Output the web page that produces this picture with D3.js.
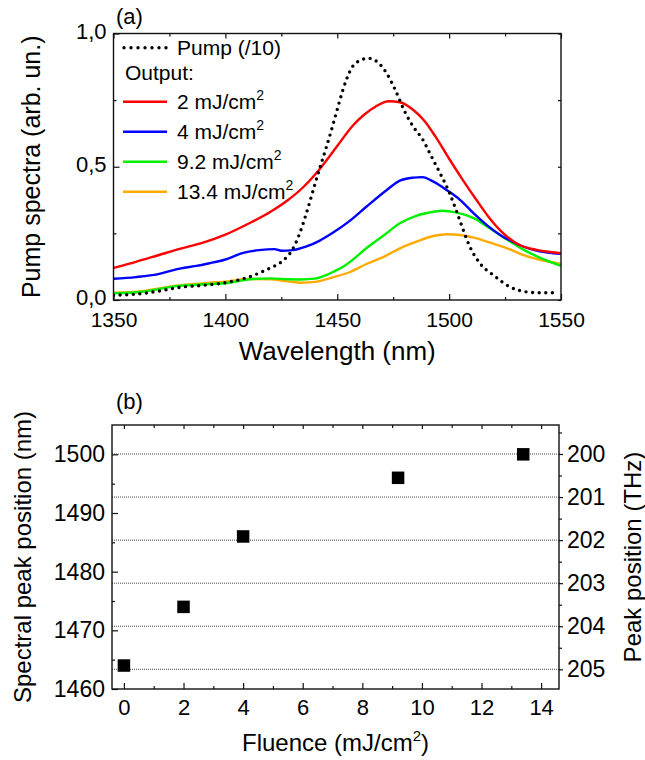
<!DOCTYPE html>
<html>
<head>
<meta charset="utf-8">
<script src="https://cdn.jsdelivr.net/npm/d3@7/dist/d3.min.js"></script>
<style>
  html, body { margin: 0; padding: 0; background: #fff; }
  svg { display: block; font-family: Arial, "Liberation Sans", Helvetica, sans-serif; }
  .tick line { stroke: #111; stroke-width: 1.2; }
  .tick text { fill: #000; }
</style>
</head>
<body>
<svg id="chart" width="645" height="760"></svg>
<script>
// ---------- Panel (a): spectra ----------
const wlTicks = [1350, 1400, 1450, 1500, 1550];
const wlMinor = [1375, 1425, 1475, 1525];
const specTicks = [0, 0.5, 1];
const specMinor = [0.25, 0.75];

// pump spectrum (divided by 10)
const pumpWl  = [1350,1360,1370,1380,1390,1400,1410,1420,1425,1430,1433,1436,1439,1442,1445,1448,1451,1454,1457,1460,1464,1468,1472,1476,1480,1484,1488,1492,1496,1500,1503,1506,1509,1514,1520,1527,1535,1542,1548];
const pumpVal = [0.018,0.022,0.033,0.048,0.055,0.065,0.085,0.12,0.143,0.19,0.245,0.32,0.405,0.49,0.57,0.655,0.745,0.825,0.878,0.898,0.907,0.893,0.852,0.787,0.71,0.65,0.605,0.54,0.475,0.405,0.34,0.27,0.205,0.135,0.092,0.05,0.03,0.027,0.027];

// output spectra
const out2Wl  = [1350,1360,1370,1380,1390,1400,1410,1420,1428,1435,1442,1450,1457,1462,1467,1473,1478,1484,1489,1494,1500,1506,1512,1518,1524,1531,1539,1545,1550];
const out2Val = [0.12,0.143,0.168,0.193,0.215,0.245,0.285,0.33,0.375,0.425,0.49,0.578,0.655,0.695,0.725,0.746,0.742,0.713,0.672,0.612,0.53,0.452,0.378,0.308,0.252,0.208,0.188,0.18,0.176];

const out4Wl  = [1350,1360,1370,1378,1387,1393,1400,1408,1415,1422,1425,1430,1436,1442,1448,1455,1463,1472,1478,1484,1488,1493,1499,1505,1511,1517,1523,1530,1538,1544,1550];
const out4Val = [0.08,0.086,0.097,0.115,0.128,0.138,0.152,0.177,0.187,0.191,0.185,0.187,0.2,0.222,0.252,0.293,0.35,0.412,0.448,0.459,0.461,0.444,0.412,0.375,0.325,0.28,0.243,0.212,0.187,0.178,0.173];

const out9Wl  = [1350,1363,1378,1393,1400,1411,1420,1428,1434,1440,1445,1448,1453,1456,1463,1471,1478,1485,1493,1497,1503,1511,1518,1526,1533,1541,1550];
const out9Val = [0.025,0.031,0.052,0.06,0.063,0.078,0.081,0.078,0.077,0.08,0.093,0.105,0.127,0.145,0.194,0.244,0.288,0.315,0.331,0.335,0.329,0.307,0.27,0.226,0.19,0.157,0.128];

const out13Wl  = [1350,1363,1378,1393,1400,1411,1420,1428,1434,1441,1448,1456,1463,1471,1478,1486,1493,1499,1505,1511,1518,1526,1533,1541,1550];
const out13Val = [0.027,0.033,0.054,0.065,0.069,0.079,0.078,0.07,0.065,0.069,0.085,0.106,0.135,0.163,0.194,0.221,0.24,0.247,0.244,0.234,0.216,0.194,0.169,0.15,0.135];

const outLabels = ["2 mJ/cm", "4 mJ/cm", "9.2 mJ/cm", "13.4 mJ/cm"];
const outColors = ["#ff0000", "#0000ff", "#00f000", "#ffaa00"];

// ---------- Panel (b): peak position vs fluence ----------
const fluence = [0, 2, 4, 9.2, 13.4];
const peakNm  = [1464, 1474, 1486, 1496, 1500];
const flTicks = [0, 2, 4, 6, 8, 10, 12, 14];
const flMinor = [1, 3, 5, 7, 9, 11, 13];
const nmTicks = [1460, 1470, 1480, 1490, 1500];
const nmMinor = [1465, 1475, 1485, 1495];
const thzTicks = [200, 201, 202, 203, 204, 205];
const thzMinor = [199.5, 200.5, 201.5, 202.5, 203.5, 204.5];

const svg = d3.select("#chart");
const FONT = 'Arial, "Liberation Sans", Helvetica, sans-serif';

function styleAxis(g, size) {
  g.select(".domain").remove();
  g.selectAll(".tick text").attr("font-size", size).attr("font-family", FONT);
}

// text with a superscript "2" followed by optional trailing text
function supText(sel, main, tail, supSize, raise) {
  sel.append("tspan").text(main);
  sel.append("tspan").attr("font-size", supSize).attr("dy", -raise).text("2");
  if (tail) sel.append("tspan").attr("dy", raise).text(tail);
}

// ================= Panel (a) =================
const ax = d3.scaleLinear().domain([1350, 1550]).range([113.5, 561]);
const ay = d3.scaleLinear().domain([0, 1]).range([300, 33.5]);
const aL = ax.range()[0], aR = ax.range()[1], aT = ay.range()[1], aB = ay.range()[0];

const pa = svg.append("g");

// axes (ticks pointing inward)
pa.append("g").attr("transform", `translate(0,${aB})`)
  .call(d3.axisBottom(ax).tickValues(wlTicks).tickSize(-6).tickPadding(12).tickFormat(d3.format("d")))
  .call(g => styleAxis(g, 21));
pa.append("g").attr("transform", `translate(0,${aB})`)
  .call(d3.axisBottom(ax).tickValues(wlMinor).tickSize(-3).tickFormat(""))
  .call(g => styleAxis(g, 21));
pa.append("g").attr("transform", `translate(0,${aT})`)
  .call(d3.axisTop(ax).tickValues(wlTicks).tickSize(-5).tickFormat(""))
  .call(g => styleAxis(g, 21));
pa.append("g").attr("transform", `translate(0,${aT})`)
  .call(d3.axisTop(ax).tickValues(wlMinor).tickSize(-3).tickFormat(""))
  .call(g => styleAxis(g, 21));
pa.append("g").attr("transform", `translate(${aL},0)`)
  .call(d3.axisLeft(ay).tickValues(specTicks).tickSize(-6).tickPadding(7)
        .tickFormat(d => d3.format(".1f")(d).replace(".", ",")))
  .call(g => styleAxis(g, 22))
  .call(g => g.selectAll(".tick text").attr("dy", "0.22em"));
pa.append("g").attr("transform", `translate(${aL},0)`)
  .call(d3.axisLeft(ay).tickValues(specMinor).tickSize(-3).tickFormat(""))
  .call(g => styleAxis(g, 22));
pa.append("g").attr("transform", `translate(${aR},0)`)
  .call(d3.axisRight(ay).tickValues(specTicks.concat(specMinor)).tickSize(-3).tickFormat(""))
  .call(g => styleAxis(g, 22));

// spectra
const lineA = d3.line().x(d => ax(d[0])).y(d => ay(d[1])).curve(d3.curveMonotoneX);
const outSeries = [
  d3.zip(out2Wl, out2Val),
  d3.zip(out4Wl, out4Val),
  d3.zip(out9Wl, out9Val),
  d3.zip(out13Wl, out13Val)
];
svg.append("clipPath").attr("id", "clipA").append("rect")
  .attr("x", aL).attr("y", aT).attr("width", aR - aL).attr("height", aB - aT);

const curves = pa.append("g").attr("clip-path", "url(#clipA)");
outSeries.slice().reverse().forEach((s, i) => {
  const k = outSeries.length - 1 - i;
  curves.append("path").datum(s)
    .attr("d", lineA).attr("fill", "none")
    .attr("stroke", outColors[k]).attr("stroke-width", 2.4)
    .attr("stroke-linejoin", "round");
});
curves.append("path").datum(d3.zip(pumpWl, pumpVal))
  .attr("d", lineA).attr("fill", "none")
  .attr("stroke", "#000").attr("stroke-width", 3.4)
  .attr("stroke-linecap", "round").attr("stroke-dasharray", "0,6.6");

// frame
pa.append("rect").attr("x", aL).attr("y", aT).attr("width", aR - aL).attr("height", aB - aT)
  .attr("fill", "none").attr("stroke", "#111").attr("stroke-width", 1.4);

// legend
const leg = pa.append("g").attr("font-family", FONT).attr("font-size", 21);
leg.append("line").attr("x1", 124).attr("x2", 167).attr("y1", 47.7).attr("y2", 47.7)
  .attr("stroke", "#000").attr("stroke-width", 3.4).attr("stroke-linecap", "round")
  .attr("stroke-dasharray", "0,7");
leg.append("text").attr("x", 177).attr("y", 54.5).text("Pump (/10)");
leg.append("text").attr("x", 125).attr("y", 79.5).text("Output:");
outLabels.forEach((lab, i) => {
  const yy = 101.7 + i * 30;
  leg.append("line").attr("x1", 123).attr("x2", 167).attr("y1", yy).attr("y2", yy)
    .attr("stroke", outColors[i]).attr("stroke-width", 2.4);
  leg.append("text").attr("x", 177).attr("y", yy + 7.5)
    .call(t => supText(t, lab, null, 14, 9));
});

// titles
pa.append("text").attr("x", 116).attr("y", 24).attr("font-size", 22).attr("font-family", FONT).text("(a)");
pa.append("text").attr("x", (aL + aR) / 2).attr("y", 359.5).attr("text-anchor", "middle")
  .attr("font-size", 26).attr("font-family", FONT).text("Wavelength (nm)");
pa.append("text").attr("transform", `translate(40,${(aT + aB) / 2}) rotate(-90)`)
  .attr("text-anchor", "middle").attr("font-size", 25).attr("font-family", FONT)
  .text("Pump spectra (arb. un.)");

// ================= Panel (b) =================
const bx = d3.scaleLinear().domain([-0.4, 14.6]).range([112, 559]);
const byL = d3.scaleLinear().domain([1460, 1505]).range([689, 425]);
const byR = d3.scaleLinear().domain([199.3265, 205.4575]).range([425, 689]);
const bL = bx.range()[0], bR = bx.range()[1], bT = byL.range()[1], bB = byL.range()[0];

const pb = svg.append("g");

// dotted grid lines at the THz ticks
pb.append("g").selectAll("line").data(thzTicks).join("line")
  .attr("x1", bL).attr("x2", bR)
  .attr("y1", d => byR(d)).attr("y2", d => byR(d))
  .attr("stroke", "#444").attr("stroke-width", 1).attr("stroke-dasharray", "1,1");

pb.append("g").attr("transform", `translate(0,${bB})`)
  .call(d3.axisBottom(bx).tickValues(flTicks).tickSize(-6).tickPadding(10).tickFormat(d3.format("d")))
  .call(g => styleAxis(g, 22));
pb.append("g").attr("transform", `translate(0,${bB})`)
  .call(d3.axisBottom(bx).tickValues(flMinor).tickSize(-3).tickFormat(""))
  .call(g => styleAxis(g, 22));
pb.append("g").attr("transform", `translate(0,${bT})`)
  .call(d3.axisTop(bx).tickValues(flTicks).tickSize(-4).tickFormat(""))
  .call(g => styleAxis(g, 22));
pb.append("g").attr("transform", `translate(0,${bT})`)
  .call(d3.axisTop(bx).tickValues(flMinor).tickSize(-3).tickFormat(""))
  .call(g => styleAxis(g, 22));
pb.append("g").attr("transform", `translate(${bL},0)`)
  .call(d3.axisLeft(byL).tickValues(nmTicks).tickSize(-6).tickPadding(7).tickFormat(d3.format("d")))
  .call(g => styleAxis(g, 23));
pb.append("g").attr("transform", `translate(${bL},0)`)
  .call(d3.axisLeft(byL).tickValues(nmMinor).tickSize(-3).tickFormat(""))
  .call(g => styleAxis(g, 23));
pb.append("g").attr("transform", `translate(${bR},0)`)
  .call(d3.axisRight(byR).tickValues(thzTicks).tickSize(4).tickPadding(4).tickFormat(d3.format("d")))
  .call(g => styleAxis(g, 23));
pb.append("g").attr("transform", `translate(${bR},0)`)
  .call(d3.axisRight(byR).tickValues(thzMinor).tickSize(3).tickFormat(""))
  .call(g => styleAxis(g, 23));

// frame
pb.append("rect").attr("x", bL).attr("y", bT).attr("width", bR - bL).attr("height", bB - bT)
  .attr("fill", "none").attr("stroke", "#111").attr("stroke-width", 1.4);

// square markers
const ms = 12.5;
pb.append("g").selectAll("rect").data(d3.zip(fluence, peakNm)).join("rect")
  .attr("x", d => bx(d[0]) - ms / 2).attr("y", d => byL(d[1]) - ms / 2)
  .attr("width", ms).attr("height", ms).attr("fill", "#000");

// titles
pb.append("text").attr("x", 116).attr("y", 409).attr("font-size", 22).attr("font-family", FONT).text("(b)");
pb.append("text").attr("x", (bL + bR) / 2).attr("y", 751).attr("text-anchor", "middle")
  .attr("font-size", 24).attr("font-family", FONT)
  .call(t => supText(t, "Fluence (mJ/cm", ")", 15, 10));
pb.append("text").attr("transform", `translate(31,${(bT + bB) / 2}) rotate(-90)`)
  .attr("text-anchor", "middle").attr("font-size", 24).attr("font-family", FONT)
  .text("Spectral peak position (nm)");
pb.append("text").attr("transform", `translate(641,${(bT + bB) / 2}) rotate(-90)`)
  .attr("text-anchor", "middle").attr("font-size", 24).attr("font-family", FONT)
  .text("Peak position (THz)");
</script>
</body>
</html>
